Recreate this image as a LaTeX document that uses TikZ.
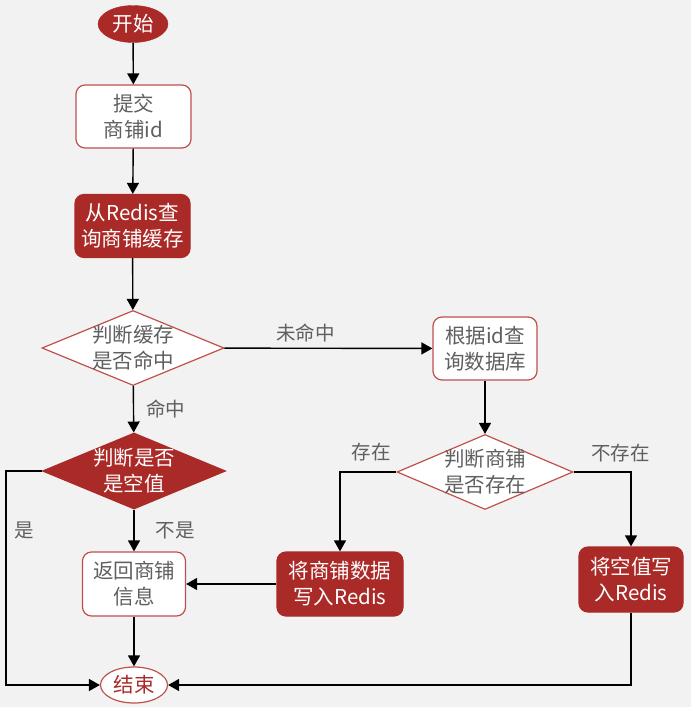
\documentclass[tikz,border=0pt]{standalone}
\usepackage{fontspec}
\setmainfont{Noto Sans CJK SC}
\usetikzlibrary{shapes.geometric,arrows.meta}
\definecolor{bg}{HTML}{F2F2F2}
\definecolor{dred}{HTML}{AA2A28}
\definecolor{bred}{HTML}{C0504D}
\definecolor{tgray}{HTML}{5F5F5F}
\begin{document}
\begin{tikzpicture}[x=1pt,y=-1pt,
  base/.style={font=\fontsize{20.5}{26}\selectfont, align=center, inner sep=0pt},
  wbox/.style={base, rectangle, rounded corners=9pt, draw=bred, fill=white, line width=1.2pt, text=tgray},
  rbox/.style={base, rectangle, rounded corners=9pt, draw=dred, fill=dred, line width=1.2pt, text=white},
  wdia/.style={diamond, draw=bred, fill=white, line width=1.2pt, inner sep=0pt},
  rdia/.style={diamond, draw=dred, fill=dred, line width=1.2pt, inner sep=0pt},
  diatxt/.style={base, text=#1},
  arr/.style={-{Triangle[length=11pt,width=12pt]}, line width=1.4pt, black},
  lbl/.style={font=\fontsize{19.5}{24}\selectfont, text=tgray, inner sep=0pt}
]
\useasboundingbox[fill=bg] (0,0) rectangle (691,707);

\node[base, ellipse, fill=dred, draw=dred, text=white, minimum width=70pt, minimum height=37pt] (start) at (133,24) {开始};
\node[wbox, minimum width=115pt, minimum height=63pt] (submit) at (133.5,116.5) {提交\\商铺id};
\node[rbox, minimum width=115pt, minimum height=63pt] (query) at (132.5,226) {从Redis查\\询商铺缓存};
\node[wdia, minimum width=182pt, minimum height=75pt,
      label={[diatxt=tgray]center:{判断缓存\\是否命中}}] (hit) at (133,348) {};
\node[wbox, minimum width=104pt, minimum height=63pt] (db) at (485,348.5) {根据id查\\询数据库};
\node[rdia, minimum width=183pt, minimum height=76pt,
      label={[diatxt=white]center:{判断是否\\是空值}}] (nullq) at (134,471) {};
\node[wdia, minimum width=176pt, minimum height=75pt,
      label={[diatxt=tgray]center:{判断商铺\\是否存在}}] (exist) at (485,472) {};
\node[wbox, minimum width=103pt, minimum height=64pt] (ret) at (134,584) {返回商铺\\信息};
\node[rbox, minimum width=126pt, minimum height=64pt] (wr1) at (340,584) {将商铺数据\\写入Redis};
\node[rbox, minimum width=104pt, minimum height=65pt] (wr2) at (631,579.5) {将空值写\\入Redis};
\node[base, ellipse, fill=white, draw=bred, line width=1.2pt, text=dred, minimum width=67pt, minimum height=36pt] (end) at (134,685) {结束};

\draw[arr] (start) -- (submit);
\draw[arr] (submit) -- (query);
\draw[arr] (query) -- (hit);
\draw[arr] (hit) -- node[lbl, above=6pt, xshift=-23pt] {未命中} (db);
\draw[arr] (hit) -- node[lbl, right=12pt] {命中} (nullq);
\draw[arr] (db) -- (exist);
\draw[arr] (nullq) -- node[lbl, right=21pt] {不是} (ret);
\coordinate (lcorner) at (6,471);
\draw[arr] (nullq.west) -- (lcorner) |- node[lbl, pos=0.14, right=8pt] {是} (end.west);
\draw[arr] (exist.west) -| node[lbl, pos=0.25, above=10pt, xshift=3pt] {存在} (wr1.north);
\draw[arr] (exist.east) -| node[lbl, pos=0.25, above=9pt, xshift=18pt] {不存在} (wr2.north);
\draw[arr] (wr1) -- (ret);
\draw[arr] (ret) -- (end);
\draw[arr] (wr2.south) |- (end.east);
\end{tikzpicture}
\end{document}
